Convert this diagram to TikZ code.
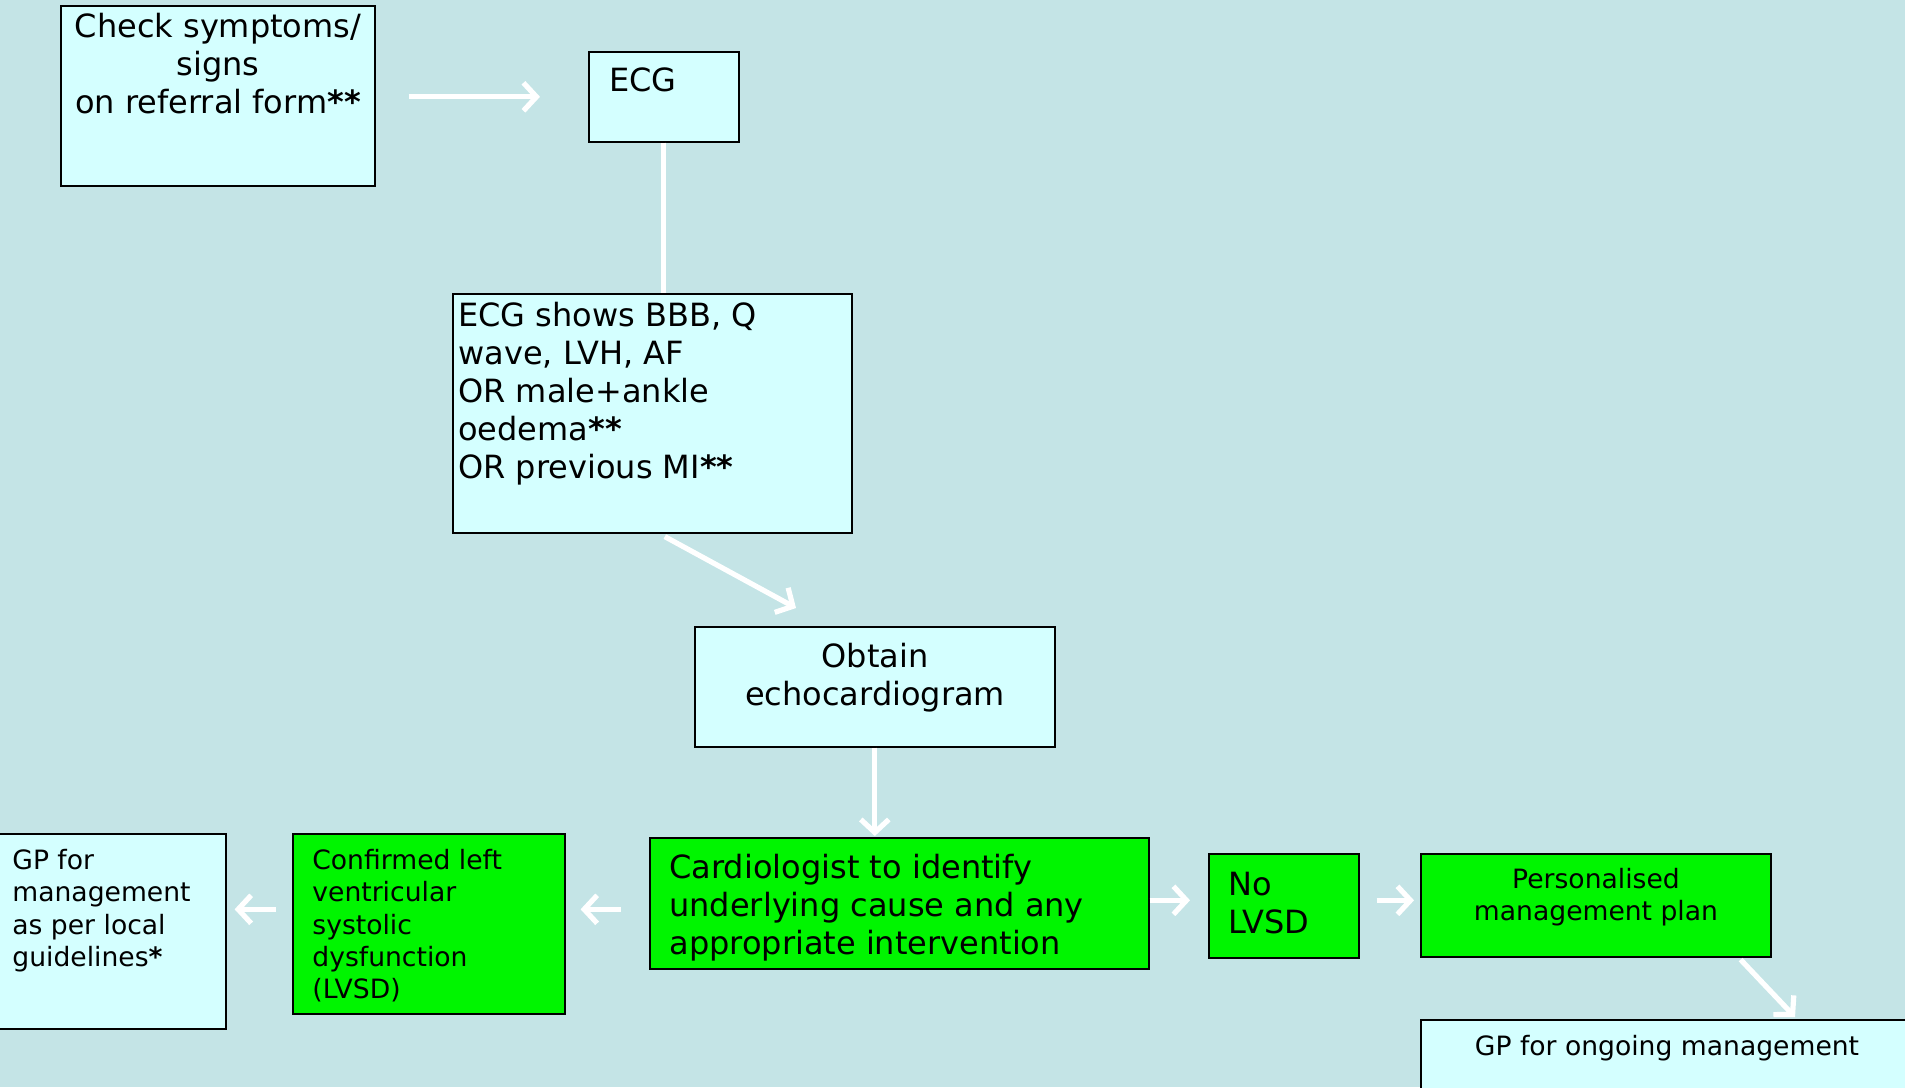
\documentclass[tikz,border=0pt]{standalone}
\usepackage{fontspec}
\setmainfont{DejaVu Sans}
\usetikzlibrary{arrows.meta, calc}
\definecolor{slidebg}{RGB}{196,228,230}
\definecolor{palecyan}{RGB}{212,255,255}
\definecolor{brightgreen}{RGB}{0,245,0}

\tikzset{
  cyanbox/.style={draw=black, line width=0.8pt, fill=palecyan, anchor=north west, inner sep=0pt},
  greenbox/.style={cyanbox, fill=brightgreen},
  bigtext/.style={inner sep=0pt, font=\fontsize{16}{19}\selectfont},
  smalltext/.style={inner sep=0pt, font=\fontsize{13.3}{16.1}\selectfont},
  whitearrow/.style={draw=white, line width=2.6pt, -{Straight Barb[length=6.5pt, width=14pt]}}
}

\begin{document}
\begin{tikzpicture}[x=0.5pt, y=-0.5pt]
  % slide background
  \useasboundingbox (0,0) rectangle (1905,1087);
  \clip (0,0) rectangle (1905,1087);
  \fill[slidebg] (0,0) rectangle (1905,1087);

  % boxes
  \node[cyanbox, minimum width=157pt, minimum height=90pt] (check) at (60,5) {};
  \node[cyanbox, minimum width=75pt, minimum height=45pt] (ecg) at (588,51) {};
  \node[cyanbox, minimum width=199.5pt, minimum height=119.5pt] (shows) at (452,293) {};
  \node[cyanbox, minimum width=180pt, minimum height=60pt] (obtain) at (694,626) {};
  \node[greenbox, minimum width=249.5pt, minimum height=65.5pt] (cardio) at (649,837) {};
  \node[greenbox, minimum width=136pt, minimum height=90pt] (lvsd) at (292,833) {};
  \node[cyanbox, minimum width=114.5pt, minimum height=97.5pt] (gplocal) at (-4,833) {};
  \node[greenbox, minimum width=75pt, minimum height=52pt] (nolvsd) at (1208,853) {};
  \node[greenbox, minimum width=175pt, minimum height=51.5pt] (plan) at (1420,853) {};
  \node[cyanbox, minimum width=246pt, minimum height=45pt] (gpongoing) at (1420,1019) {};

  % texts
  \node[bigtext, anchor=north, align=center] (checkText) at (218,13)
    {Check symptoms/\\signs\\on referral form\textbf{**}};
  \node[bigtext, anchor=north west] (ecgText) at (609,67) {ECG};
  \node[bigtext, anchor=north west, align=left] (showsText) at (458,302)
    {ECG shows BBB, Q\\wave, LVH, AF\\OR male+ankle\\oedema\textbf{**}\\OR previous MI\textbf{**}};
  \node[bigtext, anchor=north, align=center] (obtainText) at (875,643)
    {Obtain\\echocardiogram};
  \node[bigtext, anchor=north west, align=left] (cardioText) at (669,854)
    {Cardiologist to identify\\underlying cause and any\\appropriate intervention};
  \node[smalltext, anchor=north west, align=left] (lvsdText) at (312,849)
    {Confirmed left\\ventricular\\systolic\\dysfunction\\(LVSD)};
  \node[smalltext, anchor=north west, align=left] (gplocalText) at (12,849)
    {GP for\\management\\as per local\\guidelines\textbf{*}};
  \node[bigtext, anchor=north west, align=left] (nolvsdText) at (1228,872)
    {No\\LVSD};
  \node[smalltext, anchor=north, align=center] (planText) at (1596,868)
    {Personalised\\management plan};
  \node[smalltext, anchor=north] (gpongoingText) at (1667,1035)
    {GP for ongoing management};

  % connectors
  \draw[whitearrow, shorten <=16.5pt, shorten >=24pt] (check.east |- ecg.west) -- (ecg.west);
  \draw[draw=white, line width=2.6pt] (ecg.south) -- (ecg.south |- shows.north);
  \draw[whitearrow] ($(shows.south -| ecg.south)+(1,3)$) -- ($(obtain.north west)+(102,-18)$);
  \draw[whitearrow, shorten >=0.5pt] (obtain.south) -- (obtain.south |- cardio.north);
  \draw[whitearrow, shorten <=14pt, shorten >=7.5pt] ([yshift=-3pt]cardio.west) -- ([yshift=-3pt]cardio.west -| lvsd.east);
  \draw[whitearrow, shorten <=8pt, shorten >=4pt] ([yshift=-3pt]cardio.west -| lvsd.west) -- ([yshift=-3pt]cardio.west -| gplocal.east);
  \draw[whitearrow, shorten >=9pt] ([yshift=1.5pt]cardio.east) -- ([yshift=1.5pt]cardio.east -| nolvsd.west);
  \draw[whitearrow, shorten <=8.5pt, shorten >=3pt] ([yshift=1.5pt]cardio.east -| nolvsd.east) -- ([yshift=1.5pt]cardio.east -| plan.west);
  \draw[whitearrow] ($(plan.south east)+(-31,2)$) -- ($(gpongoing.north west)+(375,-2)$);
\end{tikzpicture}
\end{document}
